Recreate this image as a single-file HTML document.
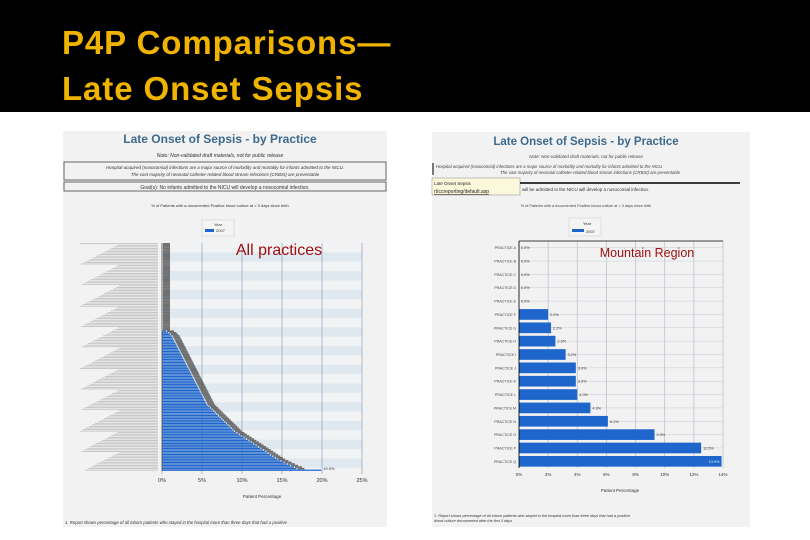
<!DOCTYPE html>
<html><head><meta charset="utf-8"><style>
body{margin:0;width:810px;height:540px;background:#fff;overflow:hidden;font-family:"Liberation Sans",sans-serif}
#top{position:absolute;left:0;top:0;width:810px;height:112px;background:#000}
.t{position:absolute;left:62px;color:#f0b400;font-weight:bold;font-size:33px;letter-spacing:0.9px}
svg{position:absolute;left:0;top:0}
</style></head><body>
<div id="top"></div>
<div class="t" style="top:24px">P4P Comparisons—</div>
<div class="t" style="top:70px">Late Onset Sepsis</div>
<svg id="s" width="810" height="540"></svg>
<script>
const allZeroCount = 56;
const allValues = [0.5,0.8,1.0,1.2,1.3,1.4,1.5,1.6,1.7,1.8,1.9,2.0,2.1,2.2,2.3,2.4,2.5,2.6,2.7,2.8,2.9,3.0,3.1,3.2,3.3,3.4,3.5,3.6,3.7,3.8,3.9,4.0,4.1,4.2,4.3,4.4,4.5,4.6,4.7,4.8,4.9,5.0,5.1,5.2,5.3,5.4,5.5,5.6,5.8,6.0,6.2,6.4,6.6,6.8,7.0,7.2,7.4,7.6,7.8,8.0,8.2,8.4,8.6,8.8,9.0,9.3,9.6,9.9,10.2,10.5,10.8,11.1,11.4,11.7,12.0,12.3,12.6,12.9,13.2,13.5,13.8,14.1,14.4,14.8,15.2,15.6,16.0,16.5,16.8,19.9];
const allTicks = ["0%","5%","10%","15%","20%","25%"];
const regionCats = ["PRACTICE A","PRACTICE B","PRACTICE C","PRACTICE D","PRACTICE E","PRACTICE F","PRACTICE G","PRACTICE H","PRACTICE I","PRACTICE J","PRACTICE K","PRACTICE L","PRACTICE M","PRACTICE N","PRACTICE O","PRACTICE P","PRACTICE Q"];
const regionValues = [0,0,0,0,0,2.0,2.2,2.5,3.2,3.9,3.9,4.0,4.9,6.1,9.3,12.5,13.9];
const regionTicks = ["0%","2%","4%","6%","8%","10%","12%","14%"];

const s=document.getElementById('s');const NS='http://www.w3.org/2000/svg';
function el(t,a,txt){const e=document.createElementNS(NS,t);for(const k in a)e.setAttribute(k,a[k]);if(txt!=null)e.textContent=txt;s.appendChild(e);return e;}

// ---- left panel
let p=el('rect',{x:63,y:131,width:324,height:396,fill:'#f2f2f2'});

let e=el('text',{x:220,y:143,'text-anchor':'middle','font-size':12,'font-weight':'bold',fill:'#3c6a8e'},'Late Onset of Sepsis - by Practice');

el('text',{x:220,y:157,'text-anchor':'middle','font-size':5,'font-style':'italic',fill:'#333'},'Note: Non-validated draft materials, not for public release');
el('rect',{x:64,y:162,width:322,height:18,fill:'none',stroke:'#444','stroke-width':0.8});
el('text',{x:225,y:169,'text-anchor':'middle','font-size':4.5,'font-style':'italic',fill:'#333'},'Hospital-acquired (nosocomial) infections are a major source of morbidity and mortality for infants admitted to the NICU.');
el('text',{x:225,y:176,'text-anchor':'middle','font-size':4.5,'font-style':'italic',fill:'#333'},'The vast majority of neonatal catheter-related blood stream infections (CRBSI) are preventable');
el('rect',{x:64,y:182,width:322,height:9,fill:'none',stroke:'#444','stroke-width':0.8});
el('text',{x:225,y:189,'text-anchor':'middle','font-size':5,fill:'#333'},'Goal(s): No infants admitted to the NICU will develop a nosocomial infection.');
el('text',{x:220,y:207,'text-anchor':'middle','font-size':4,fill:'#333'},'% of Patients with a documented Positive blood culture at > 3 days since birth');
el('rect',{x:202,y:220,width:32,height:16,fill:'#f4f4f4',stroke:'#ccc','stroke-width':0.5});
el('text',{x:218,y:226,'text-anchor':'middle','font-size':4,fill:'#333'},'Year');
el('rect',{x:205,y:229,width:9,height:3,fill:'#1f66cc'});
el('text',{x:216,y:232,'font-size':4,fill:'#333'},'2007');
const L={x0:162,x1:362,y0:243,y1:471};
const allRows=[];for(let i=0;i<allZeroCount;i++)allRows.push(0);allValues.forEach(v=>allRows.push(v));
const rh=(L.y1-L.y0)/allRows.length;
const xL=v=>L.x0+(L.x1-L.x0)*v/25;
for(let i=0;i<allRows.length;i++){
  el('rect',{x:L.x0,y:L.y0+i*rh,width:L.x1-L.x0,height:rh,fill:(Math.floor(i/6)%2)?'#dfe7ef':'#f1f3f5'});
}
for(let k=0;k<allTicks.length;k++){const x=xL(k*5);el('line',{x1:x,y1:L.y0,x2:x,y2:L.y1+3,stroke:'#8fa3bc','stroke-width':0.7});
 el('text',{x:x,y:L.y1+11,'text-anchor':'middle','font-size':5.5,fill:'#333'},allTicks[k]);}
allRows.forEach((v,i)=>{const y=L.y0+i*rh;
 const b=el('rect',{x:L.x0,y:y+0.15,width:xL(v)-L.x0,height:rh-0.3,fill:'#1f66cc'});
 
 if(i<allRows.length-1) el('rect',{x:xL(v)+1,y:y,width:7,height:rh,fill:'#444',opacity:0.75});
 el('rect',{x:80+(i*37%40),y:y+0.3,width:78-(i*37%40),height:rh*0.5,fill:'#888',opacity:0.5});
});
el('text',{x:xL(allValues[allValues.length-1])+2,y:L.y1-1,'font-size':4,fill:'#333'},'19.9%');
el('line',{x1:L.x0,y1:L.y0,x2:L.x0,y2:L.y1,stroke:'#555','stroke-width':0.8});
e=el('text',{x:279,y:255,'text-anchor':'middle','font-size':16,fill:'#a01010'},'All practices');

el('text',{x:262,y:498,'text-anchor':'middle','font-size':4.5,fill:'#333'},'Patient Percentage');
el('text',{x:65,y:524,'font-size':4.3,'font-style':'italic',fill:'#333'},'1. Report shows percentage of all inborn patients who stayed in the hospital more than three days that had a positive');

// ---- right panel
p=el('rect',{x:432,y:132,width:318,height:395,fill:'#f2f2f2'});

e=el('text',{x:586,y:145,'text-anchor':'middle','font-size':11.5,'font-weight':'bold',fill:'#3c6a8e'},'Late Onset of Sepsis - by Practice');

el('text',{x:586,y:158,'text-anchor':'middle','font-size':4.5,'font-style':'italic',fill:'#444'},'Note: Non-validated draft materials, not for public release');
el('line',{x1:433,y1:163,x2:433,y2:175,stroke:'#000','stroke-width':1});
el('text',{x:436,y:168,'font-size':4.3,'font-style':'italic',fill:'#444'},'Hospital-acquired (nosocomial) infections are a major source of morbidity and mortality for infants admitted to the NICU');
el('text',{x:590,y:174,'text-anchor':'middle','font-size':4.3,'font-style':'italic',fill:'#444'},'The vast majority of neonatal catheter-related blood stream infections (CRBSI) are preventable');
el('rect',{x:432,y:178,width:88,height:17,fill:'#fbf8dc',stroke:'#888','stroke-width':0.5});
el('text',{x:434,y:185,'font-size':4.5,fill:'#222'},'Late Onset Sepsis');
el('text',{x:434,y:193,'font-size':5,fill:'#222','text-decoration':'underline'},'rt/ccreporting/default.asp');
el('line',{x1:520,y1:183,x2:740,y2:183,stroke:'#000','stroke-width':1.5});
el('text',{x:522,y:191,'font-size':4.5,fill:'#333'},'will be admitted to the NICU will develop a nosocomial infection.');
el('text',{x:586,y:207,'text-anchor':'middle','font-size':3.8,fill:'#444'},'% of Patients with a documented Positive blood culture at > 3 days since birth');
el('rect',{x:569,y:218,width:32,height:18,fill:'#f4f4f4',stroke:'#ccc','stroke-width':0.5});
el('text',{x:587,y:225,'text-anchor':'middle','font-size':4,fill:'#333'},'Year');
el('rect',{x:572,y:229,width:12,height:3,fill:'#1f66cc'});
el('text',{x:586,y:233,'font-size':4,fill:'#333'},'2007');
const R={x0:519,x1:723,y0:241,y1:468};
const xR=v=>R.x0+(R.x1-R.x0)*v/14;
const band=(R.y1-R.y0)/regionValues.length;
for(let k=0;k<regionTicks.length;k++){const x=xR(k*2);el('line',{x1:x,y1:R.y0,x2:x,y2:R.y1,stroke:'#b4bfcc','stroke-width':0.7});
 el('text',{x:x,y:R.y1+8,'text-anchor':'middle','font-size':4.5,fill:'#333'},regionTicks[k]);}
regionValues.forEach((v,i)=>{const yc=R.y0+band*(i+0.5);
 el('line',{x1:R.x0,y1:yc,x2:R.x1,y2:yc,stroke:'#c3ccd8','stroke-width':0.5});
 const b=el('rect',{x:R.x0,y:yc-band*0.4,width:xR(v)-R.x0,height:band*0.8,fill:'#1f66cc'});
 
 el('text',{x:R.x0-3,y:yc+1.5,'text-anchor':'end','font-size':3.6,fill:'#444'},regionCats[i]);
 const last=i===regionValues.length-1;
 el('text',{x:last?xR(v)-2:xR(v)+2,y:yc+1.5,'text-anchor':last?'end':'start','font-size':3.8,fill:last?'#cfe':'#333'},v.toFixed(1)+'%');
});
el('line',{x1:R.x0,y1:R.y0,x2:R.x1,y2:R.y0,stroke:'#000','stroke-width':0.8});
el('line',{x1:R.x0,y1:R.y0,x2:R.x0,y2:R.y1,stroke:'#000','stroke-width':0.8});
e=el('text',{x:647,y:257,'text-anchor':'middle','font-size':12.5,fill:'#a01010'},'Mountain Region');

el('text',{x:620,y:492,'text-anchor':'middle','font-size':4.5,fill:'#333'},'Patient Percentage');
el('text',{x:434,y:517,'font-size':3.8,'font-style':'italic',fill:'#333'},'1. Report shows percentage of all inborn patients who stayed in the hospital more than three days that had a positive');
el('text',{x:434,y:522,'font-size':3.8,'font-style':'italic',fill:'#333'},'blood culture documented after the first 3 days');
</script>
</body></html>
